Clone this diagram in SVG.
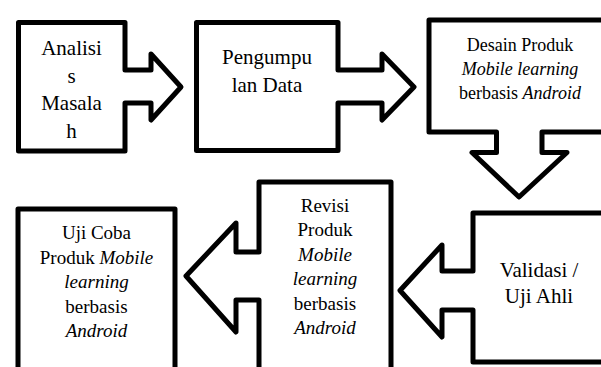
<svg xmlns="http://www.w3.org/2000/svg" width="601" height="367" viewBox="0 0 601 367">
<style>
.s{fill:#fff;stroke:#000;stroke-width:5;stroke-linejoin:round}
text{font-family:'Liberation Serif',serif;fill:#000;text-anchor:middle}
.a{font-size:21px}.b{font-size:18px}.c{font-size:19px}
.i{font-style:italic}
</style>
<rect width="601" height="367" fill="#fff"/>
<g id="connectors"></g>
<g font-family="Liberation Serif, serif">
<g id="node-analisis">
<path class="s" d="M18.5,22.5 H125 V70 H151 V54 L181,87 L151,120 V103 H125 V151 H18.5 Z"/>
<text class="a" x="71.5" y="55">Analisi</text>
<text class="a" x="71.5" y="82.7">s</text>
<text class="a" x="71.5" y="110.4">Masala</text>
<text class="a" x="71.5" y="138">h</text>
</g>
<g id="node-pengumpulan">
<path class="s" d="M196.5,22.5 H338 V70 H382 V54 L414,87 L382,120 V103 H338 V150.5 H196.5 Z"/>
<text class="a" x="267" y="64">Pengumpu</text>
<text class="a" x="267" y="91.7">lan Data</text>
</g>
<g id="node-desain">
<path class="s" d="M429,20 H612 V132 H542 V152.5 H567 L519,197 L472,152.5 H496.5 V132 H429 Z"/>
<text class="b" x="520" y="51">Desain Produk</text>
<text class="b i" x="520" y="75">Mobile learning</text>
<text class="b" x="520" y="99">berbasis <tspan class="i">Android</tspan></text>
</g>
<g id="node-validasi">
<path class="s" d="M612,213 H473 V271 H442 V245 L400,290.5 L442,337 V310 H473 V362 H612 Z"/>
<text class="a" x="539" y="276.5">Validasi /</text>
<text class="a" x="539" y="303">Uji Ahli</text>
</g>
<g id="node-revisi">
<path class="s" d="M391,380 V182 H259 V252 H236 V223 L186,276 L236,332 V300 H259 V380 Z"/>
<text class="c" x="325" y="211.7">Revisi</text>
<text class="c" x="325" y="236.2">Produk</text>
<text class="c i" x="325" y="260.7">Mobile</text>
<text class="c i" x="325" y="285.2">learning</text>
<text class="c" x="325" y="309.7">berbasis</text>
<text class="c i" x="325" y="334.2">Android</text>
</g>
<g id="node-ujicoba">
<path class="s" d="M18,380 V209 H175 V380 Z"/>
<text class="c" x="96.5" y="239">Uji Coba</text>
<text class="c" x="96.5" y="263.5">Produk <tspan class="i">Mobile</tspan></text>
<text class="c i" x="96.5" y="288">learning</text>
<text class="c" x="96.5" y="312.5">berbasis</text>
<text class="c i" x="96.5" y="337">Android</text>
</g>
</g>
</svg>
